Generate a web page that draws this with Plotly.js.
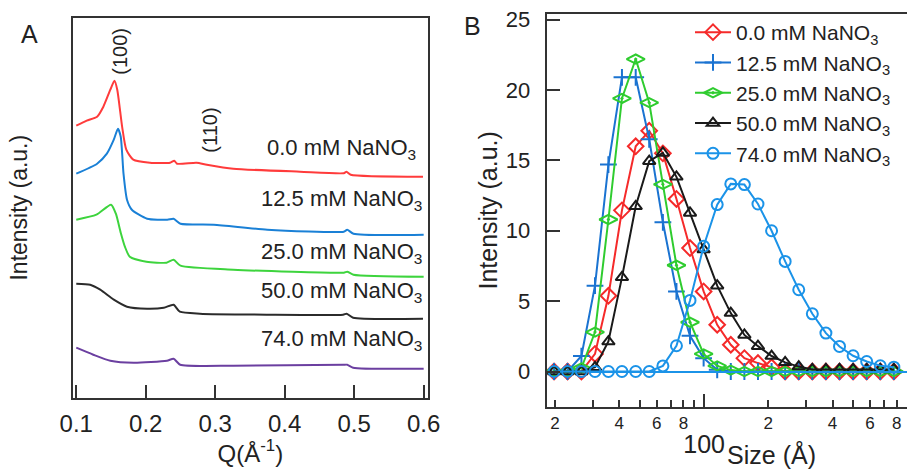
<!DOCTYPE html>
<html>
<head>
<meta charset="utf-8">
<script src="https://cdn.plot.ly/plotly-3.0.1.min.js"></script>
<style>
html,body{margin:0;padding:0;overflow:hidden;background:#fff;}
#chart{width:920px;height:469px;}
</style>
</head>
<body>
<div id="chart"></div>
<script>
// ---------- Panel A : SAXS curves (offset, a.u.) ----------
const qRed   = [0.100,0.115,0.130,0.139,0.149,0.155,0.159,0.166,0.172,0.182,0.206,0.235,0.241,0.245,0.273,0.288,0.326,0.422,0.485,0.489,0.495,0.599];
const iRed   = [27.2,27.7,28.1,29.1,30.8,31.7,30.8,27.1,24.8,23.8,23.5,23.5,23.7,23.4,23.5,23.3,22.9,22.6,22.45,22.6,22.3,22.1];
const qBlue  = [0.100,0.130,0.144,0.154,0.160,0.164,0.168,0.173,0.180,0.202,0.231,0.240,0.250,0.298,0.375,0.485,0.490,0.499,0.600];
const iBlue  = [22.4,23.4,24.4,25.8,26.9,26.1,22.4,19.8,18.8,17.9,17.8,17.9,17.4,17.3,16.8,16.6,16.8,16.4,16.3];
const qGreen = [0.100,0.129,0.150,0.157,0.164,0.170,0.177,0.201,0.230,0.240,0.250,0.326,0.485,0.490,0.499,0.600];
const iGreen = [17.8,18.3,19.3,18.4,16.5,15.1,14.1,13.6,13.5,13.8,13.2,12.8,12.5,12.6,12.3,12.1];
const qBlack = [0.100,0.120,0.1345,0.154,0.173,0.202,0.226,0.240,0.249,0.278,0.374,0.484,0.489,0.4985,0.599];
const iBlack = [11.4,11.3,10.8,9.8,9.1,8.9,9.0,9.3,8.6,8.4,8.3,8.3,8.4,8.0,7.9];
const qPurple= [0.100,0.1245,0.149,0.1825,0.2305,0.240,0.2496,0.326,0.485,0.490,0.4985,0.600];
const iPurple= [5.0,4.3,3.7,3.5,3.7,3.9,3.3,3.2,3.3,3.3,3.0,2.9];
const seriesNames = ['0.0 mM NaNO<sub>3</sub>','12.5 mM NaNO<sub>3</sub>','25.0 mM NaNO<sub>3</sub>','50.0 mM NaNO<sub>3</sub>','74.0 mM NaNO<sub>3</sub>'];
const labelY = [24.9,19.8,14.5,10.6,5.8];
const peakLabels = ['(100)','(110)'];
const peakQ = [0.163,0.2924];
const peakY = [34.6,26.8];

// ---------- Panel B : size distributions ----------
const sizes = [19.8,22.9,26.6,30.8,35.6,41.2,47.8,55.3,64.1,74.2,85.9,99.5,115.2,133.4,154.5,178.9,207.2,239.9,277.8,321.7,372.5,431.4,499.5,578.5,669.9,775.7];
const d00 = [0,0,0,1.25,5.38,11.45,16.0,17.1,15.5,12.26,8.77,5.69,3.32,1.9,0.95,0.6,0.3,0,0,0,0,0,0,0,0,0];
const d125= [0,0,1.1,6.1,14.7,20.9,20.9,16.5,10.6,5.69,2.54,0.95,0.12,0,0,0,0,0,0,0,0,0,0,0,0,0];
const d250= [0,0,0.25,2.8,10.8,19.4,22.2,19.1,13.3,7.55,3.5,1.25,0.4,0.1,0,0,0,0,0,0,0,0,0,0,0,0];
const d500= [0,0,0,0.3,2.13,6.69,11.74,14.94,15.53,13.83,11.27,8.66,6.1,4.15,2.6,1.8,1.1,0.65,0.35,0.15,0.15,0.15,0.15,0.15,0.15,0.15];
const d740= [0,0,0,0,0,0,0,0,0.4,1.83,5.05,8.9,11.86,13.33,13.28,11.9,10.0,7.82,5.81,4.1,2.73,1.78,1.12,0.71,0.41,0.31];
const xTickVals = [20,40,60,80,200,400,600,800];
const xTickText = ['2','4','6','8','2','4','6','8'];
const xMinorVals = [30,50,70,90,300,500,700,900];
const yTickVals = [0,5,10,15,20,25];

const colA = ['#ff3b3b','#1a80d6','#3dd43d','#2b2b2b','#6b3fa0'];
const colB = ['#f52a2a','#1a73d1','#2fcc2f','#1a1a1a','#1b93e8'];
const symB = ['diamond-open','cross-thin-open','diamond-wide-open-dot','triangle-up-open','circle-open'];
const sizeB = [12,12,13,11,11];

const W = 920, H = 469;
const FONT = 'Liberation Sans, Arial, sans-serif';
const TXT = '#222';
const AX = '#333';
const px = v => v / W;
const py = v => 1 - v / H;

const qs = [qRed,qBlue,qGreen,qBlack,qPurple];
const is = [iRed,iBlue,iGreen,iBlack,iPurple];
const ds = [d00,d125,d250,d500,d740];

const traces = [];
for (let k = 0; k < 5; k++) {
  traces.push({x: qs[k], y: is[k], xaxis: 'x', yaxis: 'y', mode: 'lines', showlegend: false,
    line: {color: colA[k], width: 2, shape: 'spline', smoothing: 0.6}, hoverinfo: 'skip'});
}
for (let k = 0; k < 5; k++) {
  traces.push({x: sizes, y: ds[k], xaxis: 'x2', yaxis: 'y2', mode: 'lines+markers', name: seriesNames[k],
    line: {color: colB[k], width: 2},
    marker: {symbol: symB[k], size: sizeB[k], color: colB[k], line: {color: colB[k], width: 2}}});
}
// empty helper traces so that the extra axes (100 tick, Size title) are built
traces.push({x: [], y: [], xaxis: 'x3', yaxis: 'y2', mode: 'lines', showlegend: false, hoverinfo: 'skip'});
traces.push({x: [], y: [], xaxis: 'x4', yaxis: 'y2', mode: 'lines', showlegend: false, hoverinfo: 'skip'});

const annotations = [];
for (let k = 0; k < 5; k++) {
  annotations.push({x: k === 0 ? 0.5918 : 0.6005, y: labelY[k], xref: 'x', yref: 'y', text: seriesNames[k],
    showarrow: false, xanchor: 'right', yanchor: 'middle', font: {family: FONT, size: 22, color: TXT}});
}
for (let k = 0; k < 2; k++) {
  annotations.push({x: peakQ[k], y: peakY[k], xref: 'x', yref: 'y', text: peakLabels[k], textangle: -90,
    showarrow: false, xanchor: 'center', yanchor: 'middle', font: {family: FONT, size: 20, color: TXT}});
}
annotations.push({x: px(29), y: py(34), xref: 'paper', yref: 'paper', text: 'A', showarrow: false,
  xanchor: 'center', yanchor: 'middle', font: {family: FONT, size: 25, color: TXT}});
annotations.push({x: px(472), y: py(26), xref: 'paper', yref: 'paper', text: 'B', showarrow: false,
  xanchor: 'center', yanchor: 'middle', font: {family: FONT, size: 25, color: TXT}});

const bR0 = 1.26212, bR1 = 2.97473;

const layout = {
  width: W, height: H,
  margin: {l: 0, r: 0, t: 0, b: 0},
  paper_bgcolor: '#fff', plot_bgcolor: 'rgba(0,0,0,0)',
  font: {family: FONT, color: TXT},
  showlegend: true,
  legend: {x: px(690), y: py(12), xanchor: 'left', yanchor: 'top', bgcolor: 'rgba(0,0,0,0)',
    font: {family: FONT, size: 21, color: TXT}, itemwidth: 36, tracegroupgap: 0},
  xaxis: {domain: [px(73), px(427.7)], range: [0.0953, 0.6058], anchor: 'y',
    tickvals: [0.1,0.2,0.3,0.4,0.5,0.6], ticktext: ['0.1','0.2','0.3','0.4','0.5','0.6'],
    ticks: 'inside', ticklen: 13, tickwidth: 2, tickcolor: AX, ticklabelstandoff: 3,
    showline: true, linecolor: AX, linewidth: 2, mirror: true, showgrid: false, zeroline: false,
    tickfont: {family: FONT, size: 24, color: TXT},
    title: {text: 'Q(Å<sup>-1</sup>)', font: {family: FONT, size: 24, color: TXT}, standoff: 8}},
  yaxis: {domain: [py(397.7), py(17.7)], range: [0, 38], anchor: 'x',
    showticklabels: false, ticks: '', showline: true, linecolor: AX, linewidth: 2, mirror: true,
    showgrid: false, zeroline: false,
    title: {text: 'Intensity (a.u.)', font: {family: FONT, size: 23, color: TXT}, standoff: 37}},
  xaxis2: {domain: [px(546.7), px(912)], type: 'log', range: [bR0, bR1], anchor: 'y2',
    tickmode: 'array', tickvals: xTickVals, ticktext: xTickText,
    ticks: 'inside', ticklen: 7, tickwidth: 2, tickcolor: AX,
    minor: {tickmode: 'array', tickvals: xMinorVals, ticks: 'inside', ticklen: 7, tickwidth: 2, tickcolor: AX, showgrid: false},
    showline: true, linecolor: AX, linewidth: 2, mirror: true, showgrid: false, zeroline: false,
    tickfont: {family: FONT, size: 17, color: TXT}},
  xaxis3: {overlaying: 'x2', type: 'log', range: [bR0, bR1], anchor: 'y2', side: 'bottom',
    tickmode: 'array', tickvals: [100], ticktext: ['100'],
    ticks: 'inside', ticklen: 13, tickwidth: 2, tickcolor: AX, ticklabelstandoff: 20,
    showline: false, showgrid: false, zeroline: false,
    tickfont: {family: FONT, size: 25, color: TXT}},
  xaxis4: {domain: [px(631), px(912)], type: 'log', range: [1.6578, 2.9752], anchor: 'y2',
    showticklabels: false, ticks: '', showline: false, showgrid: false, zeroline: false,
    title: {text: 'Size (Å)', font: {family: FONT, size: 25, color: TXT}, standoff: 40}},
  yaxis2: {domain: [py(406.7), py(14)], range: [-2.5, 25.4], anchor: 'x2',
    tickmode: 'array', tickvals: yTickVals, ticks: 'inside', ticklen: 13, tickwidth: 2, tickcolor: AX,
    ticklabelstandoff: 10,
    showline: true, linecolor: AX, linewidth: 2, mirror: true, showgrid: false,
    zeroline: true, zerolinecolor: '#1b93e8', zerolinewidth: 2,
    tickfont: {family: FONT, size: 22, color: TXT},
    title: {text: 'Intensity (a.u.)', font: {family: FONT, size: 25, color: TXT}, standoff: 1}},
  annotations: annotations
};

Plotly.newPlot('chart', traces, layout, {staticPlot: true, displayModeBar: false});
</script>
</body>
</html>
